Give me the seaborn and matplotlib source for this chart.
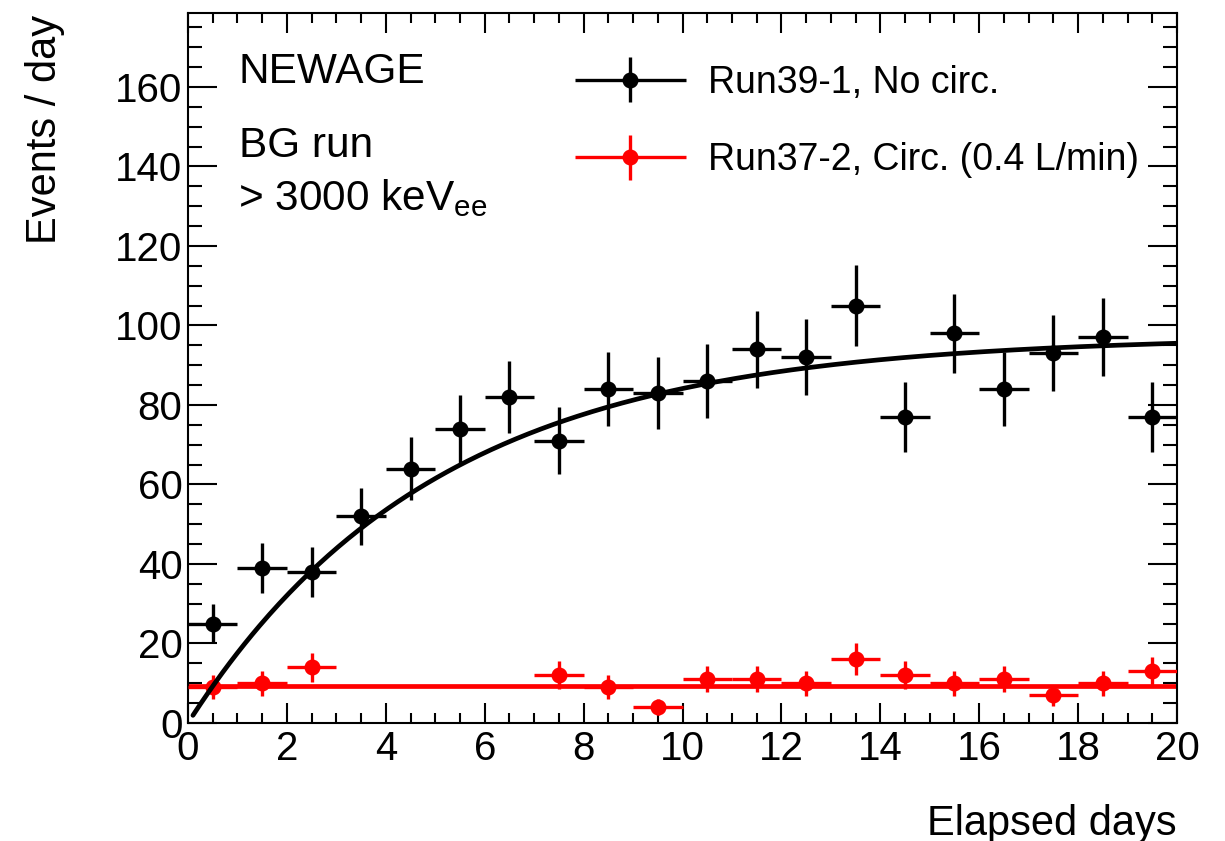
import numpy as np
import pandas as pd
import matplotlib
matplotlib.use("Agg")
import matplotlib.pyplot as plt
import seaborn as sns
from matplotlib.container import ErrorbarContainer
from matplotlib.legend_handler import HandlerErrorbar
from matplotlib.ticker import MultipleLocator

# ---------------- data ----------------
days_black = [0.5, 1.5, 2.5, 3.5, 4.5, 5.5, 6.5, 7.5, 8.5, 9.5,
              10.5, 11.5, 12.5, 13.5, 14.5, 15.5, 16.5, 17.5, 18.5, 19.5]
events_black = [25, 39, 38, 52, 64, 74, 82, 71, 84, 83,
                86, 94, 92, 105, 77, 98, 84, 93, 97, 77]
err_black = [5.0, 6.2, 6.2, 7.2, 8.0, 8.6, 9.1, 8.4, 9.2, 9.1,
             9.3, 9.7, 9.6, 10.2, 8.8, 9.9, 9.2, 9.6, 9.8, 8.8]

days_red = [0.5, 1.5, 2.5, 7.5, 8.5, 9.5, 10.5, 11.5, 12.5, 13.5,
            14.5, 15.5, 16.5, 17.5, 18.5, 19.5]
events_red = [9, 10, 14, 12, 9, 4, 11, 11, 10, 16, 12, 10, 11, 7, 10, 13]
err_red = [3.0, 3.2, 3.7, 3.5, 3.0, 2.0, 3.3, 3.3, 3.2, 4.0,
           3.5, 3.2, 3.3, 2.6, 3.2, 3.6]

bin_halfwidth = 0.5

# fit parameters
fit_amp = 97.3      # saturation level (events/day)
fit_tau = 5.0       # time constant (days)
fit_const = 9.3     # constant fit for circulated run

label_black = "Run39-1, No circ."
label_red = "Run37-2, Circ. (0.4 L/min)"

# ---------------- style ----------------
sns.set_theme(style="ticks")
plt.rcParams["font.family"] = ["Liberation Sans", "DejaVu Sans"]
plt.rcParams["mathtext.fontset"] = "custom"
plt.rcParams["mathtext.rm"] = "Liberation Sans"
plt.rcParams["mathtext.it"] = "Liberation Sans:italic"
plt.rcParams["mathtext.bf"] = "Liberation Sans:bold"
for k in ["text.color", "axes.labelcolor", "xtick.color", "ytick.color",
          "axes.edgecolor", "xtick.labelcolor", "ytick.labelcolor"]:
    plt.rcParams[k] = "black"

W, H = 1225, 841
fig = plt.figure(figsize=(W / 100, H / 100), dpi=100)
L, R, T, B = 188, 1177, 13, 723
ax = fig.add_axes([L / W, 1 - B / H, (R - L) / W, (B - T) / H])

# fit curves (seaborn)
t_fit = np.linspace(0.1, 20, 400)
df_fit_black = pd.DataFrame({"t": t_fit, "y": fit_amp * (1 - np.exp(-t_fit / fit_tau))})
df_fit_red = pd.DataFrame({"t": [0.0, 20.0], "y": [fit_const, fit_const]})

sns.lineplot(data=df_fit_red, x="t", y="y", ax=ax, color="#ff0000", lw=3.4,
             legend=False, zorder=2)

# data points with error bars
eb_red = ax.errorbar(days_red, events_red, yerr=err_red,
                     xerr=[bin_halfwidth] * len(days_red),
                     fmt="o", color="#ff0000", ms=10.5, elinewidth=2.4,
                     capsize=0, label=label_red, zorder=3)
eb_black = ax.errorbar(days_black, events_black, yerr=err_black,
                       xerr=[bin_halfwidth] * len(days_black),
                       fmt="o", color="black", ms=10.5, elinewidth=2.4,
                       capsize=0, label=label_black, zorder=3)

sns.lineplot(data=df_fit_black, x="t", y="y", ax=ax, color="black", lw=3.4,
             legend=False, zorder=4)

# axes
ax.set_xlim(0, 20)
ax.set_ylim(0, 178.6)
ax.set_xlabel("")
ax.set_ylabel("")
ax.xaxis.set_major_locator(MultipleLocator(2))
ax.xaxis.set_minor_locator(MultipleLocator(0.5))
ax.yaxis.set_major_locator(MultipleLocator(20))
ax.yaxis.set_minor_locator(MultipleLocator(5))
for s in ax.spines.values():
    s.set_linewidth(1.5)
    s.set_color("black")
    s.set_visible(True)
ax.tick_params(axis="both", which="both", direction="in", top=True, right=True,
               width=1.5, color="black", labelcolor="black", labelsize=29)
ax.tick_params(axis="x", which="major", length=14.5, pad=5)
ax.tick_params(axis="x", which="minor", length=7.5)
ax.tick_params(axis="y", which="major", length=21, pad=4)
ax.tick_params(axis="y", which="minor", length=10)

# axis titles
fig.text(45 / W, 1 - 15 / H, "Events / day", rotation=90, ha="center", va="top",
         fontsize=30, color="black")
fig.text(R / W, 1 - 835 / H, "Elapsed days", ha="right", va="baseline",
         fontsize=30, color="black")

# annotations
fig.text(239 / W, 1 - 83 / H, "NEWAGE", ha="left", va="baseline", fontsize=30.5)
fig.text(239 / W, 1 - 157 / H, "BG run", ha="left", va="baseline", fontsize=30.5)
fig.text(238 / W, 1 - 210 / H, r"> 3000 keV$_{\rm ee}$", ha="left",
         va="baseline", fontsize=30.5)

# legend
handler = HandlerErrorbar(xerr_size=1.48, yerr_size=0.6)
leg = ax.legend([eb_black, eb_red], [label_black, label_red],
                loc="upper left", bbox_to_anchor=(575 / W, 1 - 65 / H),
                bbox_transform=fig.transFigure, frameon=False,
                fontsize=27, handlelength=2.95, handletextpad=0.6,
                labelspacing=1.1, borderpad=0, borderaxespad=0,
                handler_map={ErrorbarContainer: handler})
for txt in leg.get_texts():
    txt.set_color("black")

fig.savefig("out.png", dpi=100)
